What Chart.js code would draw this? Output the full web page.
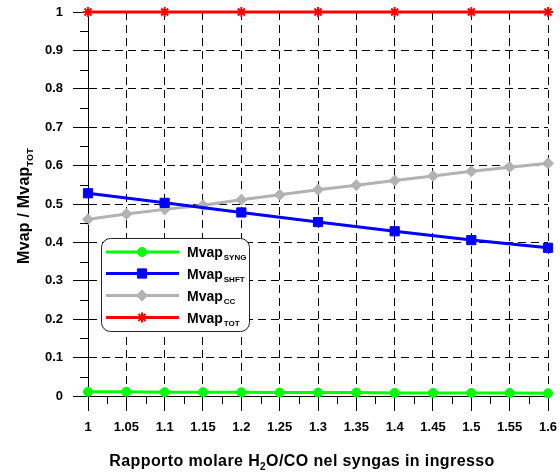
<!DOCTYPE html>
<html lang="it">
<head>
  <meta charset="UTF-8"/>
  <title>Mvap / Mvap TOT</title>
  <script src="https://cdn.jsdelivr.net/npm/chart.js"></script>
  <style>
    html, body { margin: 0; padding: 0; background: #fff; }
    #wrap { width: 560px; height: 472px; }
  </style>
</head>
<body>
  <div id="wrap"><canvas id="chart" width="560" height="472"></canvas></div>

  <script>
    // data
    const xFine = [1, 1.05, 1.1, 1.15, 1.2, 1.25, 1.3, 1.35, 1.4, 1.45, 1.5, 1.55, 1.6]
    const xCoarse = [1, 1.1, 1.2, 1.3, 1.4, 1.5, 1.6]
    const mvapSyng = [0.011, 0.011, 0.010, 0.010, 0.010, 0.009, 0.009, 0.009, 0.008, 0.008, 0.008, 0.008, 0.007]
    const mvapShft = [0.528, 0.503, 0.478, 0.453, 0.429, 0.406, 0.386]
    const mvapCc = [0.460, 0.474, 0.486, 0.497, 0.511, 0.524, 0.537, 0.549, 0.561, 0.573, 0.585, 0.596, 0.606]
    const mvapTot = [1, 1, 1, 1, 1, 1, 1]
    const xTickLabels = ['1', '1.05', '1.1', '1.15', '1.2', '1.25', '1.3', '1.35', '1.4', '1.45', '1.5', '1.55', '1.6']
    const yTickLabels = ['0', '0.1', '0.2', '0.3', '0.4', '0.5', '0.6', '0.7', '0.8', '0.9', '1']
    const yTickValues = [0, 0.1, 0.2, 0.3, 0.4, 0.5, 0.6, 0.7, 0.8, 0.9, 1]
    const legendNames = ['Mvap', 'Mvap', 'Mvap', 'Mvap']
    const legendSubs = ['SYNG', 'SHFT', 'CC', 'TOT']

    const FONT = "'Liberation Sans', Arial, sans-serif"

    const pts = (xs, ys) => xs.map((x, i) => ({ x: x, y: ys[i] }))

    const datasets = [
      { data: pts(xFine, mvapSyng), borderColor: '#00ff00', backgroundColor: '#00ff00',
        pointStyle: 'circle', pointRadius: 4.5, pointBorderWidth: 1, order: 2 },
      { data: pts(xCoarse, mvapShft), borderColor: '#0000ff', backgroundColor: '#0000ff',
        pointStyle: 'rect', pointRadius: 6.5, pointBorderWidth: 1, order: 1 },
      { data: pts(xFine, mvapCc), borderColor: '#b2b2b2', backgroundColor: '#b2b2b2',
        pointStyle: 'rectRot', pointRadius: 5.5, pointBorderWidth: 1, order: 3 },
      { data: pts(xCoarse, mvapTot), borderColor: '#ff0000', backgroundColor: '#ff0000',
        pointStyle: 'star', pointRadius: 5, pointBorderWidth: 2, order: 0 }
    ]
    datasets.forEach(d => { d.borderWidth = 3; d.clip = false; d.tension = 0 })

    // draw text with subscripts, parts = [[text, isSub], ...]
    function drawRich(ctx, parts, cx, base, size, subSize, spacing) {
      ctx.letterSpacing = spacing + 'px'
      let w = 0
      parts.forEach(p => {
        ctx.font = 'bold ' + (p[1] ? subSize : size) + 'px ' + FONT
        w += ctx.measureText(p[0]).width
      })
      let x = cx - w / 2
      ctx.textAlign = 'left'
      ctx.textBaseline = 'alphabetic'
      parts.forEach(p => {
        ctx.font = 'bold ' + (p[1] ? subSize : size) + 'px ' + FONT
        ctx.fillText(p[0], x, base + (p[1] ? 4 : 0))
        x += ctx.measureText(p[0]).width
      })
      ctx.letterSpacing = '0px'
    }

    const noPad = s => { s.paddingLeft = 0; s.paddingRight = 0; s.paddingTop = 0; s.paddingBottom = 0 }

    const extras = {
      id: 'extras',
      afterDraw(chart) {
        const ctx = chart.ctx
        const xs = chart.scales.x, ys = chart.scales.y
        ctx.save()
        // minor ticks
        ctx.strokeStyle = '#000'
        ctx.lineWidth = 1
        ctx.beginPath()
        for (let i = 0; i < xFine.length - 1; i++) {
          const px = Math.round(xs.getPixelForValue((xFine[i] + xFine[i + 1]) / 2)) + 0.5
          ctx.moveTo(px, ys.bottom)
          ctx.lineTo(px, ys.bottom + 8)
        }
        for (let i = 0; i < yTickValues.length - 1; i++) {
          const py = Math.round(ys.getPixelForValue((yTickValues[i] + yTickValues[i + 1]) / 2)) + 0.5
          ctx.moveTo(xs.left, py)
          ctx.lineTo(xs.left - 8, py)
        }
        ctx.stroke()

        // axis titles
        ctx.fillStyle = '#000'
        drawRich(ctx, [['Rapporto molare H', false], ['2', true], ['O/CO nel syngas in ingresso', false]], 302, 466, 16, 10, 0.4)
        ctx.save()
        ctx.translate(29, 206)
        ctx.rotate(-Math.PI / 2)
        drawRich(ctx, [['Mvap / Mvap', false], ['TOT', true]], 0, 0, 16, 9, 0.2)
        ctx.restore()

        // legend
        const lx = 101.5, ly = 238.5, lw = 148, lh = 93, r = 9
        ctx.beginPath()
        ctx.roundRect(lx, ly, lw, lh, r)
        ctx.fillStyle = '#fff'
        ctx.fill()
        ctx.strokeStyle = '#222'
        ctx.lineWidth = 1
        ctx.stroke()
        const rows = [252, 273.5, 295.5, 317.5]
        chart.data.datasets.forEach((d, i) => {
          const y = rows[i]
          ctx.strokeStyle = d.borderColor
          ctx.fillStyle = d.backgroundColor
          ctx.lineWidth = 3
          ctx.beginPath()
          ctx.moveTo(106, y)
          ctx.lineTo(179, y)
          ctx.stroke()
          ctx.lineWidth = d.pointBorderWidth
          Chart.helpers.drawPoint(ctx, { pointStyle: d.pointStyle, radius: d.pointRadius, borderWidth: d.pointBorderWidth, rotation: 0 }, 142, y)
          ctx.fillStyle = '#000'
          ctx.font = 'bold 14px ' + FONT
          ctx.textAlign = 'left'
          ctx.textBaseline = 'alphabetic'
          ctx.fillText(legendNames[i], 187, y + 5)
          const w = ctx.measureText(legendNames[i]).width
          ctx.font = 'bold 8px ' + FONT
          ctx.fillText(legendSubs[i], 187 + w + 1, y + 8)
        })
        ctx.restore()
      }
    }

    new Chart(document.getElementById('chart'), {
      type: 'line',
      data: { datasets: datasets },
      options: {
        responsive: false,
        animation: false,
        layout: { autoPadding: false, padding: { left: 0, right: 12, top: 12, bottom: 0 } },
        plugins: { legend: { display: false }, tooltip: { enabled: false } },
        scales: {
          x: {
            type: 'linear', min: 1, max: 1.6,
            afterBuildTicks: s => { s.ticks = xFine.map(v => ({ value: v })) },
            afterFit: s => { s.height = 76; noPad(s) },
            grid: { color: '#000', lineWidth: 1, tickLength: 15, tickColor: '#000' },
            border: { color: '#000', width: 1, dash: [8, 5] },
            ticks: {
              padding: 9, maxRotation: 0, autoSkip: false,
              color: '#000', font: { family: FONT, size: 13, weight: 'bold' },
              callback: (v, i) => xTickLabels[i]
            }
          },
          y: {
            min: 0, max: 1,
            afterBuildTicks: s => { s.ticks = yTickValues.map(v => ({ value: v })) },
            afterFit: s => { s.width = 88; noPad(s) },
            grid: { color: '#000', lineWidth: 1, tickLength: 15, tickColor: '#000' },
            border: { color: '#000', width: 1, dash: [8, 5] },
            ticks: {
              padding: 10, autoSkip: false,
              color: '#000', font: { family: FONT, size: 13, weight: 'bold' },
              callback: (v, i) => yTickLabels[i]
            }
          }
        }
      },
      plugins: [extras]
    })
  </script>
</body>
</html>
